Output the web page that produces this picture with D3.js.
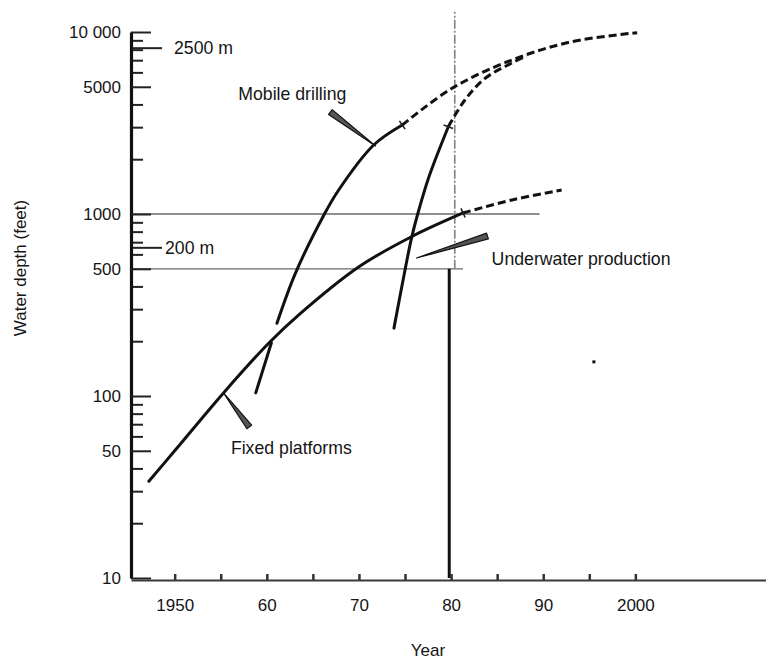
<!DOCTYPE html>
<html>
<head>
<meta charset="utf-8">
<script src="https://cdn.jsdelivr.net/npm/d3@7"></script>
<style>
  body { margin: 0; background: #fff; }
  svg { display: block; }
  text { font-family: "Liberation Sans", Arial, sans-serif; fill: #151515; }
</style>
</head>
<body>
<svg id="chart" width="766" height="660"></svg>
<script>
// ---------------- data ----------------
const yMajorTicks  = [10, 50, 100, 500, 1000, 5000, 10000];
const yMajorLabels = ["10", "50", "100", "500", "1000", "5000", "10 000"];
const yMinorTicks  = [20, 30, 40, 60, 70, 80, 90, 200, 300, 400, 600, 700, 800, 900,
                      2000, 3000, 4000, 6000, 7000, 8000, 9000];
const metricDepths = [656, 8202];          // feet
const metricLabels = ["200 m", "2500 m"];

const xTickYears  = [1950, 1955, 1960, 1965, 1970, 1975, 1980, 1985, 1990, 1995, 2000];
const xTickLabels = ["1950", "", "60", "", "70", "", "80", "", "90", "", "2000"];

// [year, depth in feet]
const fixedSolid  = [[1947.2, 34], [1950, 50], [1955.3, 104], [1960.2, 195], [1963.5, 280],
                     [1970, 513], [1975.7, 750], [1981.3, 1013]];
const fixedDashed = [[1981.3, 1013], [1986.6, 1194], [1992, 1355]];

const mobileLower  = [[1958.8, 104], [1960.5, 196]];
const mobileSolid  = [[1961.1, 251], [1963.1, 472], [1966.2, 988], [1967.8, 1355],
                      [1971.6, 2393], [1974.7, 3083]];
const mobileDashed = [[1974.7, 3083], [1980.1, 4906], [1986.6, 7018], [1993.1, 8844], [2000.2, 9912]];

const underwaterSolid  = [[1973.8, 236], [1975, 492], [1975.7, 735], [1976.5, 1052],
                          [1977.6, 1603], [1979.7, 3018]];
const underwaterDashed = [[1979.7, 3018], [1981.5, 4230], [1983.7, 5567], [1986.6, 6757], [1988.2, 7380]];

const refDepths  = [1000, 500];             // horizontal guide lines
const refEndYear = [1989.6, 1981.3];
const markerYear = 1979.8;                  // solid vertical marker (present)
const markerTop  = 500;
const guideYear  = 1980.4;                  // dash-dot vertical guide
const guideRange = [500, 12900];
const strayDot   = [[1995.5, 154]];

const labelTexts  = ["Mobile drilling", "Underwater production", "Fixed platforms"];
const labelAt     = [[1956.9, 4230], [1984.4, 525], [1956.1, 48]];
const pointerTip  = [[1971.8, 2363], [1976.25, 573], [1955.3, 104]];
const pointerTail = [[1966.9, 3635], [1983.95, 757], [1958.1, 67.6]];

// ---------------- scales ----------------
const svg = d3.select("#chart");
const x = d3.scaleLinear().domain([1945.26, 2014.18]).range([131, 766]);
const y = d3.scaleLog().domain([10, 10000]).range([578, 32]);

const line = d3.line()
  .x(d => x(d[0])).y(d => y(d[1]))
  .curve(d3.curveCatmullRom.alpha(0.5));

// ---------------- guide lines ----------------
svg.append("g").selectAll("line").data(refDepths).join("line")
  .attr("x1", x(1945.26)).attr("x2", (d, i) => x(refEndYear[i]))
  .attr("y1", d => y(d)).attr("y2", d => y(d))
  .attr("stroke", "#6a6a6a").attr("stroke-width", 1.3);

svg.append("line")
  .attr("x1", x(guideYear)).attr("x2", x(guideYear))
  .attr("y1", y(guideRange[0])).attr("y2", y(guideRange[1]))
  .attr("stroke", "#808080").attr("stroke-width", 1.6)
  .attr("stroke-dasharray", "9,2,2,2");

svg.append("line")
  .attr("x1", x(markerYear)).attr("x2", x(markerYear))
  .attr("y1", y(markerTop)).attr("y2", y(10))
  .attr("stroke", "#111").attr("stroke-width", 3);

// ---------------- axes ----------------
const fontSize = "17px";
const labelSize = "17.7px";

const yMinor = svg.append("g").attr("transform", "translate(131,0)")
  .call(d3.axisLeft(y).tickValues(yMinorTicks).tickSize(-12).tickSizeOuter(0).tickFormat(""));
yMinor.select(".domain").remove();
yMinor.selectAll(".tick line").attr("stroke", "#222").attr("stroke-width", 2);

const yMetric = svg.append("g").attr("transform", "translate(131,0)")
  .call(d3.axisLeft(y).tickValues(metricDepths).tickSize(-31).tickSizeOuter(0).tickFormat(""));
yMetric.select(".domain").remove();
yMetric.selectAll(".tick line").attr("stroke", "#222").attr("stroke-width", 2);
const metricX = [165, 174];
svg.append("g").selectAll("text").data(metricDepths).join("text")
  .attr("x", (d, i) => metricX[i]).attr("y", d => y(d)).attr("dy", "0.36em")
  .style("font-size", labelSize).text((d, i) => metricLabels[i]);

const yMajor = svg.append("g").attr("transform", "translate(131,0)")
  .call(d3.axisLeft(y).tickValues(yMajorTicks).tickSize(-20).tickSizeOuter(0)
        .tickPadding(10).tickFormat((d, i) => yMajorLabels[i]));
yMajor.attr("font-family", null).attr("font-size", null);
yMajor.select(".domain").attr("stroke", "#111").attr("stroke-width", 3.2);
yMajor.selectAll(".tick line").attr("stroke", "#222").attr("stroke-width", 2);
yMajor.selectAll(".tick text").style("font-size", fontSize).attr("fill", "#151515");

const xAxis = svg.append("g").attr("transform", "translate(0,580)")
  .call(d3.axisBottom(x).tickValues(xTickYears).tickSize(-6).tickSizeOuter(0)
        .tickPadding(19).tickFormat((d, i) => xTickLabels[i]));
xAxis.attr("font-family", null).attr("font-size", null);
xAxis.select(".domain").attr("stroke", "#3a3a3a").attr("stroke-width", 2);
xAxis.selectAll(".tick line").attr("stroke", "#333").attr("stroke-width", 2.5);
xAxis.selectAll(".tick text").style("font-size", fontSize).attr("fill", "#151515");

svg.append("text").attr("x", 428).attr("y", 656).attr("text-anchor", "middle")
  .style("font-size", fontSize).text("Year");
svg.append("text")
  .attr("transform", "translate(26,268) rotate(-90)")
  .attr("text-anchor", "middle")
  .style("font-size", fontSize).text("Water depth (feet)");

// ---------------- curves ----------------
const solids  = [fixedSolid, mobileLower, mobileSolid, underwaterSolid];
const dashes  = [fixedDashed, mobileDashed, underwaterDashed];

svg.append("g").selectAll("path").data(dashes).join("path")
  .attr("d", line).attr("fill", "none").attr("stroke", "#111")
  .attr("stroke-width", 3).attr("stroke-dasharray", "8,4");

svg.append("g").selectAll("path").data(solids).join("path")
  .attr("d", line).attr("fill", "none").attr("stroke", "#111")
  .attr("stroke-width", 3).attr("stroke-linecap", "round");

// small cross ticks where a curve turns from solid to dashed
const breaks = [fixedSolid, mobileSolid, underwaterSolid].map(s => {
  const a = s[s.length - 2], b = s[s.length - 1];
  const ax = x(a[0]), ay = y(a[1]), bx = x(b[0]), by = y(b[1]);
  const len = Math.hypot(bx - ax, by - ay);
  return { px: bx, py: by, nx: -(by - ay) / len, ny: (bx - ax) / len };
});
svg.append("g").selectAll("line").data(breaks).join("line")
  .attr("x1", d => d.px + d.nx * 5).attr("y1", d => d.py + d.ny * 5)
  .attr("x2", d => d.px - d.nx * 5).attr("y2", d => d.py - d.ny * 5)
  .attr("stroke", "#222").attr("stroke-width", 1.6);

// ---------------- pointers & labels ----------------
const wedges = pointerTip.map((t, i) => {
  const tx = x(t[0]), ty = y(t[1]);
  const ex = x(pointerTail[i][0]), ey = y(pointerTail[i][1]);
  const len = Math.hypot(ex - tx, ey - ty);
  const nx = -(ey - ty) / len * 3, ny = (ex - tx) / len * 3;
  return [[tx, ty], [ex + nx, ey + ny], [ex - nx, ey - ny]];
});
svg.append("g").selectAll("polygon").data(wedges).join("polygon")
  .attr("points", d => d.map(p => p.join(",")).join(" "))
  .attr("fill", "#555").attr("stroke", "#111").attr("stroke-width", 1.2)
  .attr("stroke-linejoin", "round");

svg.append("g").selectAll("text").data(labelTexts).join("text")
  .attr("x", (d, i) => x(labelAt[i][0])).attr("y", (d, i) => y(labelAt[i][1]))
  .style("font-size", labelSize).text(d => d);

svg.append("g").selectAll("rect").data(strayDot).join("rect")
  .attr("x", d => x(d[0]) - 1.5).attr("y", d => y(d[1]) - 1.5)
  .attr("width", 3).attr("height", 3).attr("fill", "#111");
</script>
</body>
</html>
